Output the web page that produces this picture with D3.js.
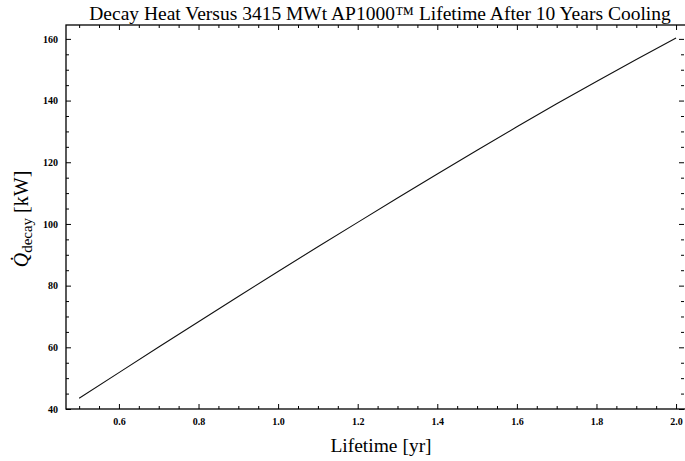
<!DOCTYPE html>
<html><head><meta charset="utf-8">
<script src="https://cdn.jsdelivr.net/npm/d3@7"></script>
<style>
body{margin:0;background:#fff;}
text{font-family:"Liberation Serif","Times New Roman",serif;fill:#000;}
</style></head>
<body><svg id="c" width="685" height="461"></svg>
<script>
const lifetime = [0.5,0.6,0.7,0.8,0.9,1.0,1.1,1.2,1.3,1.4,1.5,1.6,1.7,1.8,1.9,2.0];
const decayHeat = [43.5,51.8,60.1,68.3,76.5,84.6,92.6,100.5,108.4,116.2,123.9,131.5,139.0,146.2,153.3,160.3];
const xTicks = [0.6,0.8,1.0,1.2,1.4,1.6,1.8,2.0];
const yTicks = [40,60,80,100,120,140,160];
const title = "Decay Heat Versus 3415 MWt AP1000\u2122 Lifetime After 10 Years Cooling";

const svg = d3.select("#c");
const L=66, R=688, T=25, B=409;
const x = d3.scaleLinear().domain([0.467,2.03]).range([L,R]);
const y = d3.scaleLinear().domain([40,164.5]).range([B,T]);

svg.append("rect").attr("x",L).attr("y",T).attr("width",R-L).attr("height",B-T)
  .attr("fill","none").attr("stroke","#000").attr("stroke-width",1.3);

const xMinor = d3.range(0.5,2.0001,0.05).filter(v=>!xTicks.some(t=>Math.abs(t-v)<1e-6));
const yMinor = d3.range(40,164,5).filter(v=>!yTicks.some(t=>Math.abs(t-v)<1e-6));

const gb = svg.append("g").attr("transform",`translate(0,${B})`)
  .call(d3.axisBottom(x).tickValues(xTicks).tickSize(-5).tickPadding(9).tickFormat(d3.format(".1f")));
const gt = svg.append("g").attr("transform",`translate(0,${T})`)
  .call(d3.axisTop(x).tickValues(xTicks).tickSize(-5).tickFormat(""));
const gbm = svg.append("g").attr("transform",`translate(0,${B})`)
  .call(d3.axisBottom(x).tickValues(xMinor).tickSize(-3).tickFormat(""));
const gtm = svg.append("g").attr("transform",`translate(0,${T})`)
  .call(d3.axisTop(x).tickValues(xMinor).tickSize(-3).tickFormat(""));
const gl = svg.append("g").attr("transform",`translate(${L},0)`)
  .call(d3.axisLeft(y).tickValues(yTicks).tickSize(-5).tickPadding(8).tickFormat(d3.format("d")));
const gr = svg.append("g").attr("transform",`translate(${R-4},0)`)
  .call(d3.axisRight(y).tickValues(yTicks).tickSize(-5).tickFormat(""));
const glm = svg.append("g").attr("transform",`translate(${L},0)`)
  .call(d3.axisLeft(y).tickValues(yMinor).tickSize(-3).tickFormat(""));
const grm = svg.append("g").attr("transform",`translate(${R-4},0)`)
  .call(d3.axisRight(y).tickValues(yMinor).tickSize(-3).tickFormat(""));

[gb,gt,gbm,gtm,gl,gr,glm,grm].forEach(g=>{
  g.select(".domain").remove();
  g.selectAll(".tick line").attr("stroke","#000").attr("stroke-width",1);
  g.selectAll(".tick text").style("font-family","'Liberation Serif',serif")
   .style("font-size","10px").style("font-weight","bold").attr("fill","#000");
});

svg.append("path").datum(lifetime.map((d,i)=>[d,decayHeat[i]]))
  .attr("fill","none").attr("stroke","#111").attr("stroke-width",1.1)
  .attr("d",d3.line().x(d=>x(d[0])).y(d=>y(d[1])));

svg.append("text").attr("x",380).attr("y",20).attr("text-anchor","middle")
  .style("font-size","19.5px").text(title);

svg.append("text").attr("x",381).attr("y",452).attr("text-anchor","middle")
  .style("font-size","19.5px").text("Lifetime [yr]");

const yl = svg.append("text").attr("transform","translate(28,219) rotate(-90)")
  .attr("text-anchor","middle").style("font-size","20px");
yl.append("tspan").style("font-style","italic").text("Q\u0307");
yl.append("tspan").attr("dy",4).style("font-size","15px").text("decay");
yl.append("tspan").attr("dy",-4).text(" [kW]");
</script></body></html>
